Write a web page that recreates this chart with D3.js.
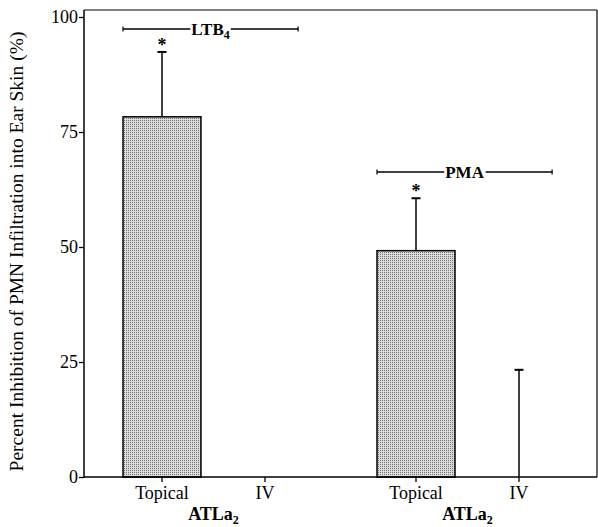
<!DOCTYPE html>
<html>
<head>
<meta charset="utf-8">
<script src="https://cdn.jsdelivr.net/npm/d3@7"></script>
<style>
body{margin:0;background:#fff;}
svg text{font-family:"Liberation Serif","Times New Roman",serif !important;fill:#000;}
</style>
</head>
<body>
<svg id="chart" width="598" height="527"></svg>
<script>
// ---- data ----
const groups = ["LTB4", "PMA"];
const treatments = ["Topical", "IV"];
const means = [[78.3, 0], [49.2, 0]];
const errors = [[92.4, null], [60.6, 23.3]];
const significant = [[true, false], [true, false]];
const bracketLevels = [97.4, 66.3];
const yTicks = [0, 25, 50, 75, 100];
const yTitle = "Percent Inhibition of PMN Infiltration into Ear Skin (%)";

// ---- layout ----
const W = 598, H = 527;
const FONT = "'Liberation Serif', 'Times New Roman', serif";
const m = {left: 84, right: 1, top: 10, bottom: 50};
const svg = d3.select("#chart");

const y = d3.scaleLinear().domain([0, 100]).range([477, 17]);
const x0 = d3.scaleBand().domain(groups).range([m.left, W - m.right]).paddingInner(0).paddingOuter(0.0098);
const x1 = d3.scaleBand().domain(treatments).range([0, x0.bandwidth()]).paddingInner(0.243).paddingOuter(0.3545);

// pattern
const defs = svg.append("defs");
const pat = defs.append("pattern").attr("id", "stip").attr("patternUnits", "userSpaceOnUse")
  .attr("width", 2).attr("height", 2);
pat.append("rect").attr("width", 2).attr("height", 2).attr("fill", "#dcdcdc");
pat.append("rect").attr("width", 1).attr("height", 1).attr("fill", "#707070");

// frame
const yBottom = y(0);
svg.append("line").attr("x1", m.left).attr("x2", W - 1).attr("y1", m.top).attr("y2", m.top)
  .attr("stroke", "#000").attr("stroke-width", 1.2);
svg.append("line").attr("x1", W - 1).attr("x2", W - 1).attr("y1", m.top).attr("y2", yBottom)
  .attr("stroke", "#000").attr("stroke-width", 1.2);

// bars
groups.forEach((g, gi) => {
  treatments.forEach((t, ti) => {
    const v = means[gi][ti];
    const bx = x0(g) + x1(t);
    const bw = x1.bandwidth();
    const cx = bx + bw / 2;
    if (v > 0) {
      svg.append("rect").attr("x", bx).attr("y", y(v)).attr("width", bw).attr("height", yBottom - y(v))
        .attr("fill", "url(#stip)").attr("stroke", "#000").attr("stroke-width", 1.5);
    }
    const e = errors[gi][ti];
    if (e != null) {
      svg.append("line").attr("x1", cx).attr("x2", cx).attr("y1", y(v)).attr("y2", y(e))
        .attr("stroke", "#000").attr("stroke-width", 1.5);
      svg.append("line").attr("x1", cx - 4.5).attr("x2", cx + 4.5).attr("y1", y(e)).attr("y2", y(e))
        .attr("stroke", "#000").attr("stroke-width", 2);
      if (significant[gi][ti]) {
        svg.append("text").attr("x", cx).attr("y", y(e) - 1).attr("text-anchor", "middle")
          .attr("font-family", FONT).attr("font-size", 18).attr("font-weight", "bold").text("*");
      }
    }
  });
});

// brackets
groups.forEach((g, gi) => {
  const xa = x0(g) + x1("Topical");
  const xb = xa + x1.step() * 1.7;
  const yy = y(bracketLevels[gi]);
  const mid = (xa + xb) / 2;
  const br = svg.append("g");
  const lbl = br.append("text").attr("x", mid).attr("y", yy + 6).attr("text-anchor", "middle")
    .attr("font-family", FONT).attr("font-size", 17).attr("font-weight", "bold");
  if (g === "LTB4") {
    lbl.append("tspan").text("LTB");
    lbl.append("tspan").attr("font-size", 12).attr("dy", 4).text("4");
  } else {
    lbl.text(g);
  }
  const bb = lbl.node().getBBox();
  br.append("line").attr("x1", xa).attr("x2", bb.x - 1).attr("y1", yy).attr("y2", yy)
    .attr("stroke", "#000").attr("stroke-width", 1.5);
  br.append("line").attr("x1", bb.x + bb.width + 1).attr("x2", xb).attr("y1", yy).attr("y2", yy)
    .attr("stroke", "#000").attr("stroke-width", 1.5);
  [xa, xb].forEach(xx => br.append("line").attr("x1", xx).attr("x2", xx).attr("y1", yy - 2.5).attr("y2", yy + 2.5)
    .attr("stroke", "#000").attr("stroke-width", 1.2));
});

// y axis
const yAxis = svg.append("g").attr("transform", `translate(${m.left},0)`)
  .call(d3.axisLeft(y).tickValues(yTicks).tickSize(5).tickPadding(1));
yAxis.attr("font-family", FONT);
yAxis.select(".domain").attr("d", `M0,${m.top}V${yBottom}`).attr("stroke-width", 1.5);
yAxis.selectAll(".tick line").attr("stroke-width", 1.3);
yAxis.selectAll("text").attr("font-size", 18).attr("font-family", FONT);

// x axis
const xAxis = svg.append("g");
xAxis.append("line").attr("x1", m.left).attr("x2", W - 1).attr("y1", yBottom).attr("y2", yBottom)
  .attr("stroke", "#000").attr("stroke-width", 1.5);
groups.forEach(g => {
  treatments.forEach(t => {
    const cx = x0(g) + x1(t) + x1.bandwidth() / 2;
    xAxis.append("line").attr("x1", cx).attr("x2", cx).attr("y1", yBottom).attr("y2", yBottom + 5)
      .attr("stroke", "#000").attr("stroke-width", 1.3);
    xAxis.append("text").attr("x", cx).attr("y", yBottom + 22).attr("text-anchor", "middle")
      .attr("font-family", FONT).attr("font-size", 18).text(t);
  });
  const gc = x0(g) + x0.bandwidth() / 2;
  const t = xAxis.append("text").attr("x", gc).attr("y", yBottom + 43).attr("text-anchor", "middle")
    .attr("font-family", FONT).attr("font-size", 18).attr("font-weight", "bold");
  t.append("tspan").text("ATLa");
  t.append("tspan").attr("font-size", 12).attr("dy", 4).text("2");
});

// y title
svg.append("text").attr("transform", `translate(23,${(m.top + yBottom) / 2 + 8}) rotate(-90)`)
  .attr("text-anchor", "middle").attr("font-family", FONT).attr("font-size", 19.5).text(yTitle);
</script>
</body>
</html>
